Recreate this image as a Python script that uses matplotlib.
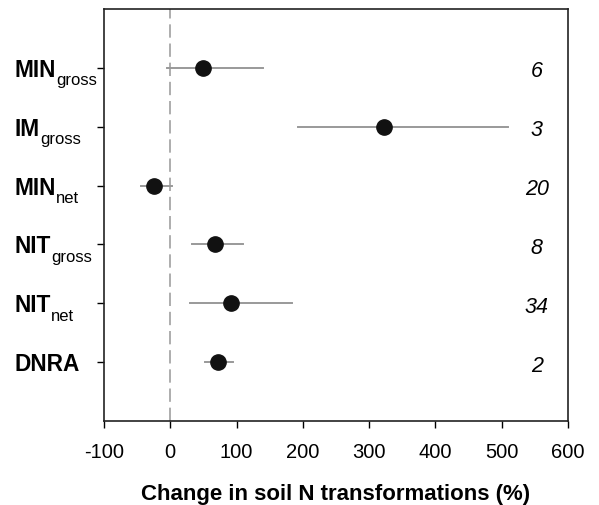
import matplotlib
matplotlib.use('Agg')
import matplotlib.pyplot as plt
import matplotlib.transforms as mtransforms

plt.rcParams['font.family'] = ['Liberation Sans', 'DejaVu Sans']
plt.rcParams['axes.unicode_minus'] = False

# data
names = ['MIN', 'IM', 'MIN', 'NIT', 'NIT', 'DNRA']
subs = ['gross', 'gross', 'net', 'gross', 'net', '']
means = [50, 323, -25, 67, 92, 72]
lower = [-5, 193, -44, 33, 30, 52]
upper = [140, 510, 3, 110, 184, 95]
n_studies = [6, 3, 20, 8, 34, 2]
ypos = [6, 5, 4, 3, 2, 1]

fig = plt.figure(figsize=(5.99, 5.06), dpi=100)
ax = fig.add_axes([0.1736, 0.166, 0.7746, 0.8142])

ax.axvline(0, color='#a0a0a0', lw=1.2, ls=(0, (8, 3.5)), zorder=1)

for y, lo, hi in zip(ypos, lower, upper):
    ax.plot([lo, hi], [y, y], color='#999999', lw=1.4, zorder=2)
ax.plot(means, ypos, 'o', color='#111111', ms=11, zorder=3)

for y, n in zip(ypos, n_studies):
    ax.text(553, y - 0.05, str(n), ha='center', va='center', fontsize=15.5, style='italic')

ax.set_xlim(-100, 600)
ax.set_ylim(0, 7)
ax.set_xticks(range(-100, 601, 100))
ax.set_yticks(ypos)
ax.set_yticklabels([])
ax.tick_params(axis='x', labelsize=14.5, length=5, width=1, direction='out', pad=10)
ax.tick_params(axis='y', length=5, width=1, direction='out')

for sp in ax.spines.values():
    sp.set_linewidth(1.2)
    sp.set_color('#222222')

# category labels with lowered subscripts
trans = mtransforms.blended_transform_factory(ax.transAxes, ax.transData)
off = mtransforms.ScaledTranslation(0, -8 / 100, fig.dpi_scale_trans)
for y, nm, sb in zip(ypos, names, subs):
    t = ax.text(-0.193, y, nm, transform=trans + off, ha='left', va='baseline',
                fontsize=16.3, fontweight='bold')
    if sb:
        ax.annotate(sb, xy=(1, 0), xycoords=t, xytext=(0.3, -2.5),
                    textcoords='offset points', ha='left', va='baseline', fontsize=12)

ax.set_xlabel('Change in soil N transformations (%)', fontsize=16, fontweight='bold', labelpad=16)

fig.savefig('out.png', dpi=100)
